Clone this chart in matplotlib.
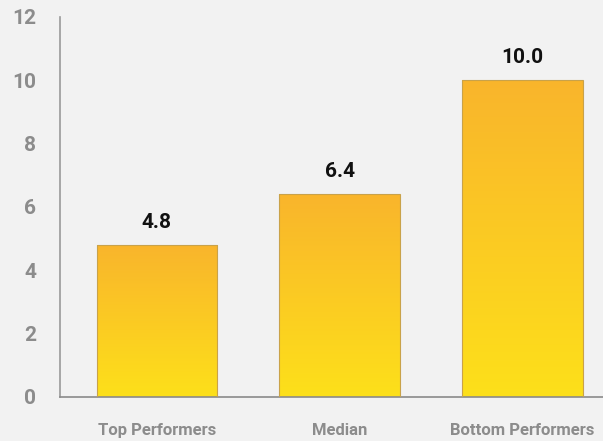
import numpy as np
import matplotlib
matplotlib.use("Agg")
import matplotlib.pyplot as plt
from matplotlib.colors import LinearSegmentedColormap

plt.rcParams['font.family'] = ['Roboto', 'DejaVu Sans']

categories = ["Top Performers", "Median", "Bottom Performers"]
values = [4.8, 6.4, 10.0]
yticks = [0, 2, 4, 6, 8, 10, 12]

bg = "#f2f2f2"
fig = plt.figure(figsize=(6.03, 4.41), dpi=100, facecolor=bg)
ax = fig.add_axes([60/603, 1-397/441, 1-60/603, (397-17)/441])
ax.set_facecolor(bg)

x = np.arange(len(categories))
width = 0.66
cmap = LinearSegmentedColormap.from_list("g", ["#fde01a", "#f9b52c"])
bars = ax.bar(x, values, width=width, color="none", edgecolor="#c9a24a", linewidth=0.8, zorder=3)
grad = np.linspace(0, 1, 256).reshape(-1, 1)
for b, v in zip(bars, values):
    x0 = b.get_x()
    im = ax.imshow(grad, cmap=cmap, aspect="auto", origin="lower",
                   extent=[x0, x0 + width, 0, v], zorder=2, vmin=0, vmax=1)
    im.set_clip_path(b)
    ax.text(b.get_x() + width/2, v + 0.42, f"{v:.1f}", ha="center", va="bottom",
            fontsize=15, fontweight="bold", color="#111111", zorder=4)

ax.set_xlim(-0.53, 2.44)
ax.set_ylim(0, 12)
ax.set_yticks(yticks)
ax.set_yticklabels([str(t) for t in yticks], fontsize=15, fontweight="bold", color="#8c8c8c")
ax.set_xticks(x)
ax.set_xticklabels(categories, fontsize=12, fontweight="bold", color="#8c8c8c")
ax.tick_params(axis="y", length=0, pad=17)
ax.tick_params(axis="x", length=0, pad=19)
for s in ["top", "right"]:
    ax.spines[s].set_visible(False)
ax.spines["left"].set_color("#9a9a9a")
ax.spines["bottom"].set_color("#8a8a8a")
ax.spines["left"].set_linewidth(1.2)
ax.spines["bottom"].set_linewidth(1.2)

fig.savefig("out.png", dpi=100, facecolor=bg)
